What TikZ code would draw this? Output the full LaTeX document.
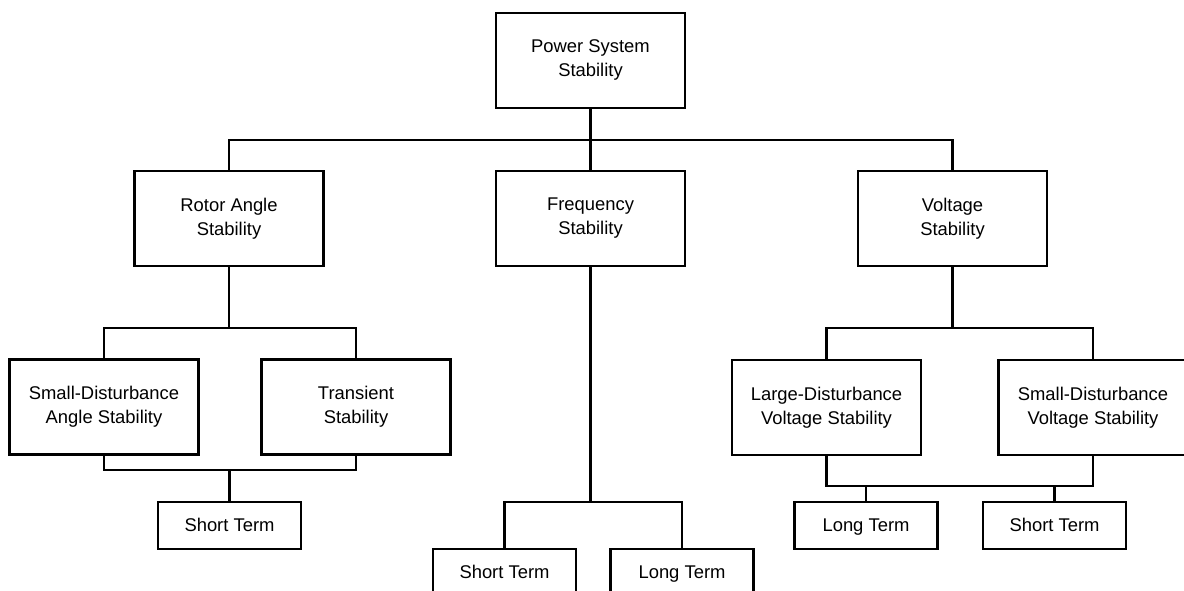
\documentclass[tikz,border=0pt]{standalone}
\usepackage{fontspec}
\setmainfont{Liberation Sans}
\usetikzlibrary{positioning}

% same line height in every box
\newcommand\lnstrut{\rule[-4pt]{0pt}{20pt}}

\tikzset{
  bigbox/.style={draw, line width=2.2pt, minimum width=189pt, minimum height=95pt,
    inner sep=0pt, align=center, font=\fontsize{18.4}{24}\selectfont,
    execute at begin node=\lnstrut, execute at end node=\lnstrut},
  termbox/.style={bigbox, minimum width=143pt, minimum height=47pt},
  link/.style={line width=2.2pt}
}

\begin{document}
\begin{tikzpicture}[x=1pt,y=-1pt]

    \useasboundingbox (0,0) rectangle (1184,591);

    % levels of the branch bars
    \coordinate (lvl1) at (0,140);
    \coordinate (lvl2) at (0,328);
    \coordinate (lvl3) at (0,470);
    \coordinate (lvl4) at (0,502);
    \coordinate (lvl5) at (0,486);

    % top and second row
    \node[bigbox] (pss)   at (590.5,60.5)  {Power System\\Stability};
    \node[bigbox] (rotor) at (229,218.5)   {Rotor Angle\\Stability};
    \node[bigbox] (freq)  at (590.5,218.5) {Frequency\\Stability};
    \node[bigbox] (volt)  at (952.5,218.5) {Voltage\\Stability};

    % third row
    \node[bigbox] (sda) at (104,407)    {Small-Disturbance\\Angle Stability};
    \node[bigbox] (tra) at (356,407)    {Transient\\Stability};
    \node[bigbox] (ldv) at (826.5,407.5) {Large-Disturbance\\Voltage Stability};
    \node[bigbox] (sdv) at (1093,407.5) {Small-Disturbance\\Voltage Stability};

    % time frames
    \node[termbox] (st1) at (229.5,525.5) {Short Term};
    \node[termbox] (fst) at (504.5,572.5) {Short Term};
    \node[termbox] (flt) at (682,572.5)   {Long Term};
    \node[termbox] (vlt) at (866,525.5)   {Long Term};
    \node[termbox] (vst) at (1054.5,525.5) {Short Term};

    % draw branches
    \draw[link] (pss) -- (freq);
    \draw[link] (rotor.north) -- (rotor.north |- lvl1) -- (volt.north |- lvl1) -- (volt.north);

    \draw[link] (rotor.south) -- (rotor.south |- lvl2);
    \draw[link] (sda.north) -- (sda.north |- lvl2) -- (tra.north |- lvl2) -- (tra.north);
    \draw[link] (sda.south) -- (sda.south |- lvl3) -- (tra.south |- lvl3) -- (tra.south);
    \draw[link] (st1.north) -- (st1.north |- lvl3);

    \draw[link] (freq.south) -- (freq.south |- lvl4);
    \draw[link] (fst.north) -- (fst.north |- lvl4) -- (flt.north |- lvl4) -- (flt.north);

    \draw[link] (volt.south) -- (volt.south |- lvl2);
    \draw[link] (ldv.north) -- (ldv.north |- lvl2) -- (sdv.north |- lvl2) -- (sdv.north);
    \draw[link] (ldv.south) -- (ldv.south |- lvl5) -- (sdv.south |- lvl5) -- (sdv.south);
    \foreach \t in {vlt,vst}
      \draw[link] (\t.north) -- (\t.north |- lvl5);

\end{tikzpicture}
\end{document}
